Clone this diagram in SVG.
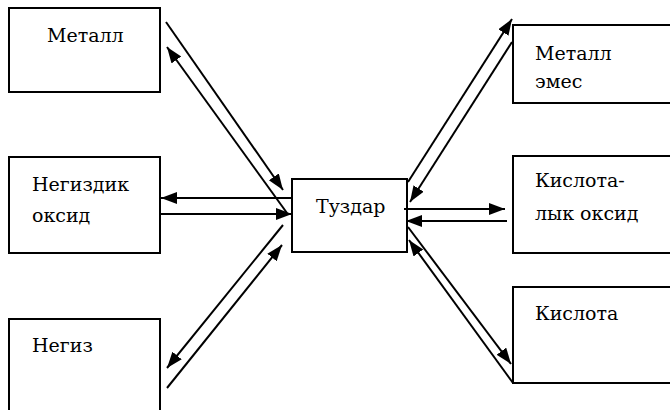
<svg xmlns="http://www.w3.org/2000/svg" width="670" height="410" viewBox="0 0 670 410">
<style>
.box{fill:#fff;stroke:#000;stroke-width:2}
text{font-family:"DejaVu Serif","Liberation Serif",serif;font-size:19px;fill:#000}
.c{stroke:#000;stroke-width:2;fill:none;marker-end:url(#ah)}
</style>
<defs>
<marker id="ah" markerUnits="userSpaceOnUse" markerWidth="18" markerHeight="14" refX="16" refY="6" orient="auto">
<path d="M0,0 L16,6 L0,12 z" fill="#000"/>
</marker>
</defs>
<rect width="670" height="410" fill="#fff"/>
<g id="metall"><rect class="box" x="9" y="8" width="151" height="84"/><text x="47" y="42">Металл</text></g>
<g id="negizdik-oksid"><rect class="box" x="9" y="157" width="151" height="96"/><text x="32" y="191">Негиздик</text><text x="32" y="222">оксид</text></g>
<g id="negiz"><rect class="box" x="9" y="319" width="151" height="110"/><text x="32" y="352">Негиз</text></g>
<g id="tuzdar"><rect class="box" x="292" y="179" width="115" height="73"/><text x="316" y="213">Туздар</text></g>
<g id="metall-emes"><rect class="box" x="513" y="25" width="170" height="78"/><text x="535" y="60">Металл</text><text x="535" y="88">эмес</text></g>
<g id="kislotalyk-oksid"><rect class="box" x="513" y="156" width="170" height="97"/><text x="535" y="187">Кислота-</text><text x="535" y="220">лык оксид</text></g>
<g id="kislota"><rect class="box" x="513" y="287" width="170" height="96"/><text x="535" y="320">Кислота</text></g>
<g id="connectors">
<line class="c" x1="166" y1="22" x2="283" y2="190"/>
<line class="c" x1="287" y1="213" x2="167" y2="47"/>
<line class="c" x1="292" y1="198" x2="161" y2="198"/>
<line class="c" x1="160" y1="214" x2="292" y2="214"/>
<line class="c" x1="283" y1="225" x2="167" y2="368"/>
<line class="c" x1="167" y1="388" x2="282" y2="245"/>
<line class="c" x1="408" y1="182" x2="512" y2="19"/>
<line class="c" x1="512" y1="42" x2="410" y2="202"/>
<line class="c" x1="404" y1="209" x2="505" y2="209"/>
<line class="c" x1="507" y1="221" x2="406" y2="221"/>
<line class="c" x1="408" y1="227" x2="511" y2="364"/>
<line class="c" x1="513" y1="383" x2="409" y2="240"/>
</g>
</svg>
